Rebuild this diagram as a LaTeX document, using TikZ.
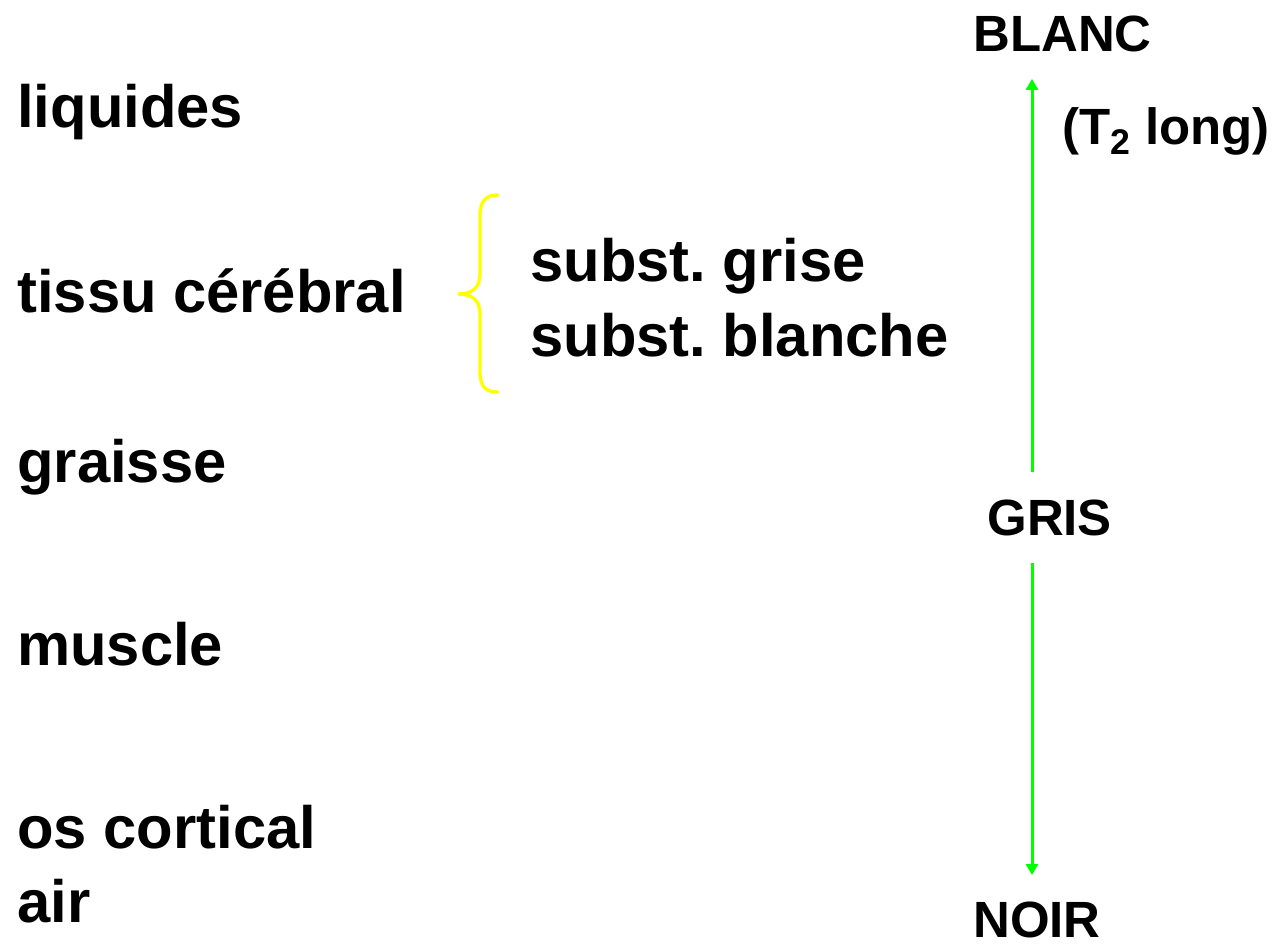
\documentclass[tikz,border=0pt]{standalone}
\usepackage{fontspec}
\setmainfont{Liberation Sans}
\usetikzlibrary{arrows.meta}
\definecolor{vert}{RGB}{0,255,0}
\definecolor{jaune}{RGB}{255,255,0}
\frenchspacing

\begin{document}
\begin{tikzpicture}
  [x=0.02cm,y=-0.02cm,
   every node/.style={anchor=base west,inner sep=0pt,font=\fontsize{34}{40}\selectfont\bfseries},
   niveau/.style={font=\fontsize{29}{34}\selectfont\bfseries},
   fleche/.style={vert,line width=1.7pt,-{Triangle[width=0.24cm,length=0.22cm]},shorten <=0.54cm,shorten >=0.52cm}]
  \useasboundingbox (0,0) rectangle (1277,945);

  % tissus
  \node (liq) at (17,128) {liquides};
  \node (tis) at (17,313) {tissu cérébral};
  \node (gra) at (17,482) {graisse};
  \node (mus) at (17,665) {muscle};
  \node (os)  at (17,848) {os cortical};
  \node (air) at (17,922) {air};

  \node (grise)   at (530,282) {subst. grise};
  \node (blanche) at (530,357) {subst. blanche};

  % accolade
  \draw[jaune,line width=1.9pt,line cap=round]
    (498,195) .. controls (486,195) and (480,201) .. (480,216) -- (480,274)
    .. controls (480,288) and (472,294) .. (458,294)
    .. controls (472,294) and (480,300) .. (480,314) -- (480,372)
    .. controls (480,387) and (486,392) .. (498,392);

  % echelle de gris
  \node[niveau] (blanc) at (973,52)  {BLANC};
  \node[niveau] (gris)  at (987,535) {GRIS};
  \node[niveau] (noir)  at (973,937) {NOIR};
  \node[niveau] (t2)    at (1062,145) {(T\textsubscript{2} long)};

  \coordinate (axe) at (1032,0);
  \draw[fleche] (gris.north -| axe) -- (blanc.south -| axe);
  \draw[fleche] (gris.south -| axe) -- (noir.north -| axe);

\end{tikzpicture}
\end{document}
